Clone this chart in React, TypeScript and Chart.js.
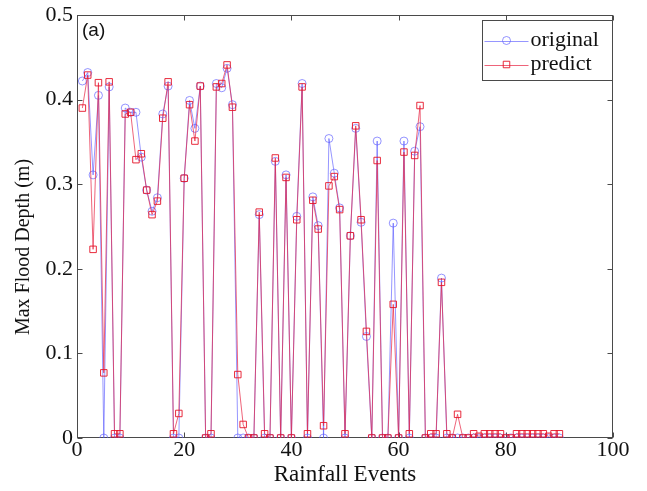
import React, { useEffect, useRef } from 'react';
import { Chart, registerables } from 'chart.js';

Chart.register(...registerables);

// Rainfall event index 1..90
const events: number[] = Array.from({ length: 90 }, (_, i) => i + 1);

const original: number[] = [
  0.422, 0.432, 0.311, 0.405, 0, 0.415, 0, 0, 0.390, 0.385,
  0.385, 0.332, 0.293, 0.268, 0.284, 0.383, 0.416, 0, 0, 0.307,
  0.399, 0.366, 0.416, 0, 0, 0.419, 0.414, 0.437, 0.394, 0,
  0, 0, 0, 0.264, 0, 0, 0.327, 0, 0.311, 0,
  0.262, 0.419, 0, 0.285, 0.251, 0, 0.354, 0.313, 0.272, 0,
  0.239, 0.366, 0.255, 0.120, 0, 0.351, 0, 0, 0.254, 0,
  0.351, 0, 0.339, 0.368, 0, 0, 0, 0.189, 0, 0,
  0, 0, 0, 0, 0, 0, 0, 0, 0, 0,
  0, 0, 0, 0, 0, 0, 0, 0, 0, 0,
];

const predict: number[] = [
  0.390, 0.429, 0.223, 0.420, 0.077, 0.421, 0.005, 0.005, 0.383, 0.385,
  0.329, 0.336, 0.293, 0.264, 0.280, 0.378, 0.421, 0.005, 0.029, 0.307,
  0.394, 0.351, 0.416, 0, 0.005, 0.415, 0.419, 0.441, 0.391, 0.075,
  0.016, 0, 0, 0.267, 0.005, 0, 0.331, 0, 0.308, 0,
  0.258, 0.415, 0.005, 0.281, 0.247, 0.0145, 0.298, 0.309, 0.270, 0.005,
  0.239, 0.369, 0.258, 0.126, 0, 0.328, 0, 0, 0.158, 0,
  0.338, 0.005, 0.334, 0.393, 0, 0.005, 0.005, 0.184, 0.005, 0,
  0.028, 0, 0, 0.005, 0.002, 0.005, 0.005, 0.005, 0.005, 0,
  0, 0.005, 0.005, 0.005, 0.005, 0.005, 0.005, 0.002, 0.005, 0.005,
];

const seriesLabels: string[] = ['original', 'predict'];
const xTickStep = 20;
const yTickStep = 0.1;
const panelLabel = '(a)';
const xTitle = 'Rainfall Events';
const yTitle = 'Max Flood Depth (m)';

const SERIF = "'Liberation Serif', 'Times New Roman', serif";
const SANS = "'Liberation Sans', Arial, sans-serif";

const BLUE_LINE = 'rgba(80, 80, 255, 0.6)';
const BLUE_PT = 'rgba(90, 90, 255, 0.65)';
const RED_LINE = 'rgba(232, 40, 70, 0.72)';
const RED_PT = 'rgba(230, 20, 40, 0.9)';

const frame = {
  id: 'frame',
  beforeDatasetsDraw(chart: any) {
    const { ctx, chartArea, scales } = chart;
    const { left, right, top, bottom } = chartArea;
    const L = Math.round(left) + 0.5;
    const R = Math.round(right) - 0.5;
    const T = Math.round(top) + 0.5;
    const B = Math.round(bottom) - 0.5;
    ctx.save();
    ctx.strokeStyle = '#4a4a4a';
    ctx.lineWidth = 1;
    ctx.strokeRect(L, T, R - L, B - T);
    const tl = 5;
    ctx.beginPath();
    scales.x.ticks.forEach((t: any) => {
      const px = Math.round(scales.x.getPixelForValue(t.value)) + 0.5;
      ctx.moveTo(px, B);
      ctx.lineTo(px, B - tl);
      ctx.moveTo(px, T);
      ctx.lineTo(px, T + tl);
    });
    scales.y.ticks.forEach((t: any) => {
      const py = Math.round(scales.y.getPixelForValue(t.value)) + 0.5;
      ctx.moveTo(L, py);
      ctx.lineTo(L + tl, py);
      ctx.moveTo(R, py);
      ctx.lineTo(R - tl, py);
    });
    ctx.stroke();

    // y-axis title (rotated)
    ctx.fillStyle = '#111';
    ctx.font = `20px ${SERIF}`;
    ctx.textAlign = 'center';
    ctx.textBaseline = 'middle';
    ctx.translate(24, 247);
    ctx.rotate(-Math.PI / 2);
    ctx.fillText(yTitle, 0, 0);
    ctx.restore();
  },
  afterDraw(chart: any) {
    const { ctx, chartArea } = chart;
    ctx.save();
    // panel label
    ctx.fillStyle = '#111';
    ctx.font = `19px ${SANS}`;
    ctx.textBaseline = 'top';
    ctx.textAlign = 'left';
    ctx.fillText(panelLabel, chartArea.left + 5, chartArea.top + 6);

    // legend box
    const bw = 130;
    const bh = 60;
    const bx = Math.round(chartArea.right) - 1 - bw + 0.5;
    const by = Math.round(chartArea.top) + 5 + 0.5;
    ctx.fillStyle = '#fff';
    ctx.fillRect(bx, by, bw, bh);
    ctx.strokeStyle = '#4a4a4a';
    ctx.lineWidth = 1;
    ctx.strokeRect(bx, by, bw, bh);

    const ds = chart.data.datasets;
    ds.forEach((d: any, i: number) => {
      const cy = by + 20 + i * 24;
      const x0 = bx + 2;
      const x1 = bx + 46;
      const cx = (x0 + x1) / 2;
      ctx.strokeStyle = d.borderColor;
      ctx.lineWidth = 1;
      ctx.beginPath();
      ctx.moveTo(x0, Math.round(cy) + 0.5);
      ctx.lineTo(x1, Math.round(cy) + 0.5);
      ctx.stroke();
      ctx.strokeStyle = d.pointBorderColor;
      ctx.beginPath();
      if (d.pointStyle === 'rect') {
        const s = d.pointRadius * Math.SQRT1_2;
        ctx.rect(cx - s, cy - s, 2 * s, 2 * s);
      } else {
        ctx.arc(cx, cy, d.pointRadius, 0, Math.PI * 2);
      }
      ctx.stroke();
      ctx.fillStyle = '#111';
      ctx.font = `22px ${SERIF}`;
      ctx.textBaseline = 'middle';
      ctx.textAlign = 'left';
      ctx.fillText(d.label, x1 + 2, cy);
    });
    ctx.restore();
  },
};

export default function App() {
  const ref = useRef<HTMLCanvasElement | null>(null);

  useEffect(() => {
    document.body.style.margin = '0';
    const canvas = ref.current;
    if (!canvas) return;
    const chart = new Chart(canvas, {
      type: 'line',
      data: {
        datasets: [
          {
            label: seriesLabels[0],
            data: events.map((e, i) => ({ x: e, y: original[i] })),
            borderColor: BLUE_LINE,
            borderWidth: 1,
            pointStyle: 'circle',
            pointRadius: 4,
            pointBorderColor: BLUE_PT,
            pointBackgroundColor: 'rgba(0,0,0,0)',
            pointBorderWidth: 1,
            tension: 0,
            fill: false,
            order: 1,
          },
          {
            label: seriesLabels[1],
            data: events.map((e, i) => ({ x: e, y: predict[i] })),
            borderColor: RED_LINE,
            borderWidth: 1,
            pointStyle: 'rect',
            pointRadius: 4.6,
            pointBorderColor: RED_PT,
            pointBackgroundColor: 'rgba(0,0,0,0)',
            pointBorderWidth: 1,
            tension: 0,
            fill: false,
            order: 0,
          },
        ],
      } as any,
      options: {
        animation: false,
        responsive: false,
        devicePixelRatio: 1,
        layout: { padding: { top: 13, right: 34, left: 0, bottom: 0 } },
        plugins: {
          legend: { display: false },
          tooltip: { enabled: false },
        },
        scales: {
          x: {
            type: 'linear',
            min: 0,
            max: 100,
            grid: { display: false, drawTicks: false },
            border: { display: false },
            ticks: {
              stepSize: xTickStep,
              autoSkip: false,
              maxRotation: 0,
              padding: 1,
              color: '#111',
              font: { family: SERIF, size: 22, lineHeight: 1 },
            },
            title: {
              display: true,
              text: xTitle,
              color: '#111',
              font: { family: SERIF, size: 23, lineHeight: 1.2 },
              padding: { top: 0, bottom: 2 },
            },
            afterFit(s: any) {
              s.height = 53;
            },
          },
          y: {
            type: 'linear',
            min: 0,
            max: 0.5,
            grid: { display: false, drawTicks: false },
            border: { display: false },
            ticks: {
              stepSize: yTickStep,
              padding: 4,
              color: '#111',
              font: { family: SERIF, size: 22, lineHeight: 1 },
              callback: (v: any) => (Number(v) === 0 ? '0' : Number(v).toFixed(1)),
            },
            title: { display: false },
            afterFit(s: any) {
              s.width = 77;
            },
          },
        },
      } as any,
      plugins: [frame],
    });
    return () => chart.destroy();
  }, []);

  return (
    <div style={{ width: 647, height: 491 }}>
      <canvas ref={ref} width={647} height={491} style={{ display: 'block' }} />
    </div>
  );
}
